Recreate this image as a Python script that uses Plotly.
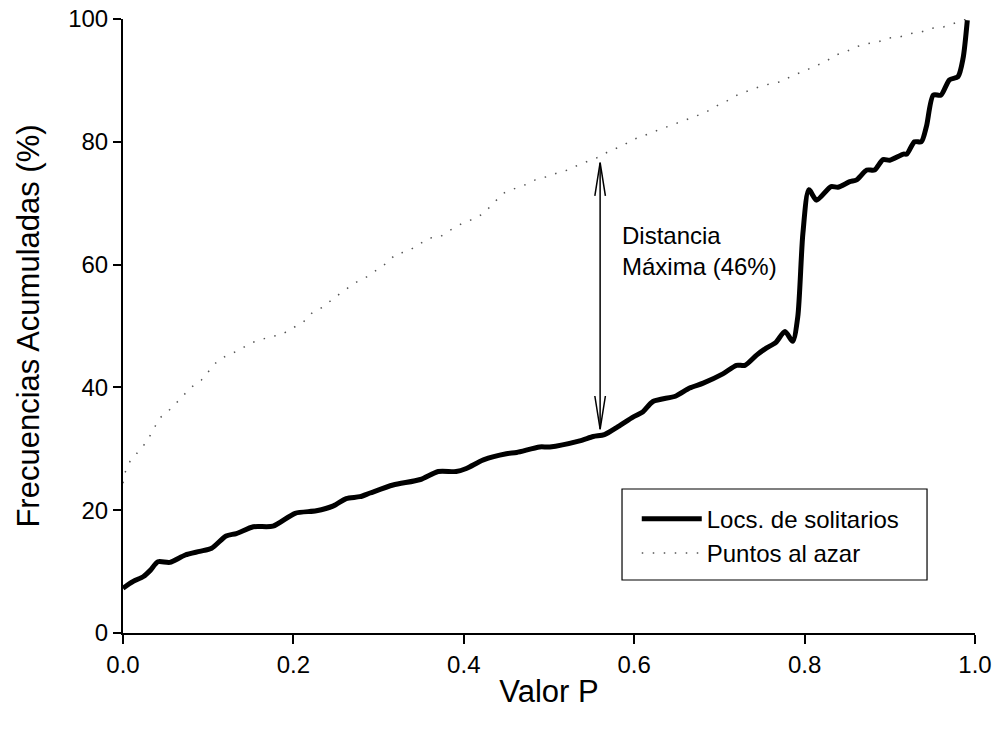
import plotly.graph_objects as go

# ---- data ----
solid_x = [0.000, 0.012, 0.024, 0.032, 0.041, 0.055, 0.073, 0.090, 0.104, 0.121,
           0.133, 0.153, 0.176, 0.202, 0.227, 0.247, 0.262, 0.278, 0.290, 0.317,
           0.349, 0.370, 0.391, 0.403, 0.423, 0.450, 0.462, 0.489, 0.501, 0.536,
           0.552, 0.565, 0.581, 0.599, 0.610, 0.622, 0.649, 0.665, 0.681, 0.704,
           0.720, 0.730, 0.744, 0.755, 0.766, 0.777, 0.786, 0.792, 0.798, 0.805,
           0.814, 0.831, 0.839, 0.853, 0.861, 0.873, 0.882, 0.892, 0.900, 0.916,
           0.920, 0.929, 0.937, 0.943, 0.951, 0.960, 0.970, 0.980, 0.986, 0.991]
solid_y = [7.3, 8.4, 9.2, 10.2, 11.6, 11.5, 12.7, 13.3, 13.8, 15.8,
           16.2, 17.3, 17.4, 19.5, 19.9, 20.7, 21.9, 22.2, 22.8, 24.1,
           25.0, 26.3, 26.3, 26.8, 28.2, 29.2, 29.4, 30.3, 30.3, 31.3,
           32.0, 32.3, 33.6, 35.2, 36.0, 37.7, 38.6, 39.9, 40.7, 42.2,
           43.6, 43.6, 45.3, 46.4, 47.3, 49.1, 47.5, 51.5, 65.1, 72.2,
           70.5, 72.7, 72.6, 73.5, 73.8, 75.4, 75.4, 77.1, 77.0, 78.0,
           78.0, 80.0, 80.0, 82.5, 87.6, 87.6, 90.1, 90.6, 93.6, 99.8]

dot_x = [0.000, 0.002, 0.008, 0.018, 0.028, 0.043, 0.055, 0.067, 0.079, 0.092,
         0.102, 0.112, 0.124, 0.137, 0.149, 0.163, 0.174, 0.186, 0.198, 0.212,
         0.223, 0.235, 0.247, 0.261, 0.272, 0.286, 0.298, 0.309, 0.321, 0.333,
         0.347, 0.358, 0.372, 0.384, 0.398, 0.409, 0.423, 0.435, 0.446, 0.458,
         0.472, 0.484, 0.497, 0.509, 0.522, 0.534, 0.546, 0.560, 0.573, 0.585,
         0.597, 0.608, 0.622, 0.634, 0.648, 0.660, 0.671, 0.685, 0.699, 0.711,
         0.722, 0.736, 0.748, 0.761, 0.773, 0.787, 0.798, 0.810, 0.824, 0.836,
         0.849, 0.861, 0.875, 0.887, 0.899, 0.912, 0.924, 0.937, 0.949, 0.963,
         0.975, 0.990]
dot_y = [24.4, 26.0, 27.9, 29.5, 31.2, 35.0, 36.4, 38.1, 39.9, 41.2,
         42.8, 44.5, 45.3, 46.1, 47.2, 47.8, 48.3, 48.6, 49.6, 50.7,
         52.3, 53.1, 54.5, 55.9, 57.0, 58.0, 59.1, 60.2, 61.8, 62.1,
         63.2, 64.3, 64.5, 65.6, 66.7, 67.3, 68.3, 70.0, 71.6, 72.3,
         73.0, 73.8, 74.3, 74.9, 75.4, 76.2, 76.9, 77.6, 78.7, 79.2,
         80.3, 80.8, 81.6, 82.2, 83.0, 83.6, 84.1, 84.9, 86.0, 86.8,
         87.7, 88.4, 89.0, 89.5, 89.8, 90.9, 91.4, 92.2, 93.0, 94.1,
         94.7, 95.5, 96.0, 96.3, 96.9, 97.1, 97.6, 97.9, 98.5, 98.7,
         99.3, 100.0]

series_names = ["Locs. de solitarios", "Puntos al azar"]
x_ticks = [0.0, 0.2, 0.4, 0.6, 0.8, 1.0]
x_tick_labels = ["0.0", "0.2", "0.4", "0.6", "0.8", "1.0"]
y_ticks = [0, 20, 40, 60, 80, 100]
y_tick_labels = ["0", "20", "40", "60", "80", "100"]

# max distance marker
arrow_x = 0.56
arrow_top = 76.6
arrow_bottom = 33.2
annot_text = "Distancia<br>Máxima (46%)"

FONT = "Liberation Sans, Arial, sans-serif"

fig = go.Figure()
fig.add_trace(go.Scatter(
    x=solid_x, y=solid_y, mode="lines", name=series_names[0],
    line=dict(color="black", width=5, shape="spline", smoothing=0.7),
))
fig.add_trace(go.Scatter(
    x=dot_x, y=dot_y, mode="lines", name=series_names[1],
    line=dict(color="#555555", width=1.5, dash="1.5px,9.5px"),
))

# arrow shaft
fig.add_shape(type="line", x0=arrow_x, x1=arrow_x, y0=arrow_bottom, y1=arrow_top,
              line=dict(color="black", width=1.5))
# open arrow heads
hw = 0.0062
hl = 5.4
fig.add_shape(type="path",
              path=f"M {arrow_x-hw},{arrow_top-hl} L {arrow_x},{arrow_top} L {arrow_x+hw},{arrow_top-hl}",
              line=dict(color="black", width=1.5))
fig.add_shape(type="path",
              path=f"M {arrow_x-hw},{arrow_bottom+hl} L {arrow_x},{arrow_bottom} L {arrow_x+hw},{arrow_bottom+hl}",
              line=dict(color="black", width=1.5))

fig.add_annotation(x=0.583, y=62.2, xref="x", yref="y", text=annot_text,
                   showarrow=False, xanchor="left", yanchor="middle", align="left",
                   font=dict(family=FONT, size=24, color="black"))

# legend box
fig.add_shape(type="rect", xref="paper", yref="paper",
              x0=0.5857, x1=0.9437, y0=0.0863, y1=0.2345,
              line=dict(color="black", width=1.2), fillcolor="rgba(0,0,0,0)", layer="below")

fig.update_layout(
    width=996, height=731,
    margin=dict(l=123, r=21, t=19, b=98, autoexpand=False),
    paper_bgcolor="white", plot_bgcolor="white",
    font=dict(family=FONT, color="black", size=24),
    showlegend=True,
    legend=dict(x=0.603, y=0.222, xanchor="left", yanchor="top",
                bgcolor="rgba(0,0,0,0)", borderwidth=0,
                font=dict(family=FONT, size=24, color="black"),
                itemwidth=60, tracegroupgap=0),
    xaxis=dict(range=[0, 1], tickvals=x_ticks, ticktext=x_tick_labels,
               showline=True, linecolor="black", linewidth=2, mirror=False,
               ticks="outside", ticklen=9, tickwidth=2, tickcolor="black",
               showgrid=False, zeroline=False, automargin=False,
               tickfont=dict(family=FONT, size=24, color="black"),
               title=dict(text="Valor P", font=dict(family=FONT, size=31, color="black"), standoff=4)),
    yaxis=dict(range=[0, 100], tickvals=y_ticks, ticktext=y_tick_labels,
               showline=True, linecolor="black", linewidth=2,
               ticks="outside", ticklen=8, tickwidth=2, tickcolor="black",
               showgrid=False, zeroline=False, automargin=False,
               tickfont=dict(family=FONT, size=24, color="black"),
               title=dict(text="Frecuencias Acumuladas (%)", font=dict(family=FONT, size=31, color="black"), standoff=19)),
)

fig.write_html("out.html")
